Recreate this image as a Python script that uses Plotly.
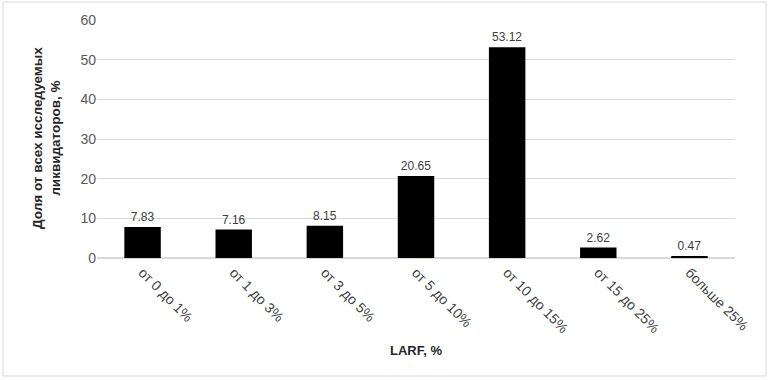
import plotly.graph_objects as go

categories = ["от 0 до 1%", "от 1 до 3%", "от 3 до 5%", "от 5 до 10%", "от 10 до 15%", "от 15 до 25%", "больше 25%"]
values = [7.83, 7.16, 8.15, 20.65, 53.12, 2.62, 0.47]
y_ticks = [0, 10, 20, 30, 40, 50, 60]

W, H = 770, 380
L, R, T, B = 97, 35, 20, 122
pw, ph = W - L - R, H - T - B

fig = go.Figure()
fig.add_trace(go.Bar(
    x=categories, y=values,
    marker=dict(color="black", line=dict(width=0)),
    text=[f"{v:.2f}" for v in values],
    textposition="outside",
    textfont=dict(family="Liberation Sans, Arial", size=12, color="#404040"),
    cliponaxis=False,
))

fig.update_layout(
    width=W, height=H,
    margin=dict(l=L, r=R, t=T, b=B),
    paper_bgcolor="white", plot_bgcolor="white",
    bargap=0.6,
    showlegend=False,
    font=dict(family="Liberation Sans, Arial", size=13, color="#595959"),
    xaxis=dict(
        tickangle=45,
        tickfont=dict(size=14, color="#404040"),
        showline=True, linecolor="#d9d9d9", linewidth=1,
        ticks="", showgrid=False,
    ),
    yaxis=dict(
        range=[0, 60], tickvals=y_ticks,
        showgrid=True, gridcolor="#d9d9d9", gridwidth=1,
        zeroline=True, zerolinecolor="#d9d9d9",
        tickfont=dict(size=14, color="#595959"),
        ticks="", ticklen=0,
    ),
    annotations=[
        dict(text="<b>LARF, %</b>", xref="paper", yref="paper",
             x=0.5, y=-(350 - 258) / ph, xanchor="center", yanchor="middle",
             showarrow=False, font=dict(size=13, color="#262626")),
        dict(text="<b>Доля от всех исследуемых<br>ликвидаторов, %</b>", xref="paper", yref="paper",
             x=(46 - L) / pw, y=(258 - 138) / ph, xanchor="center", yanchor="middle",
             textangle=-90, showarrow=False,
             font=dict(size=13.5, color="#262626")),
    ],
    shapes=[
        dict(type="rect", xref="paper", yref="paper",
             x0=(3 - L) / pw, x1=(766 - L) / pw,
             y0=(258 - 376) / ph, y1=(258 - 2) / ph,
             line=dict(color="#d9d9d9", width=1), layer="below"),
    ],
)

fig.write_html("out.html", config={"displayModeBar": False},
               post_script="document.body.style.margin='0';")
